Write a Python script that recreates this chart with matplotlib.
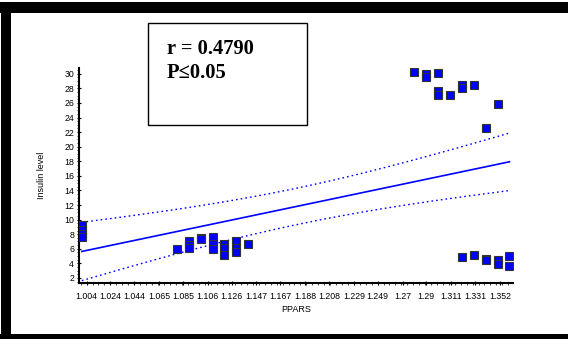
import numpy as np
import matplotlib
matplotlib.use("Agg")
from matplotlib import pyplot as plt
from matplotlib.patches import Rectangle
from matplotlib.ticker import AutoMinorLocator, MultipleLocator

# PPARS vs insulin level readings
ppars = [1.00, 1.00, 1.00, 1.00,
         1.08, 1.09, 1.09, 1.09, 1.10, 1.10,
         1.11, 1.11, 1.11, 1.12, 1.12, 1.12,
         1.13, 1.13, 1.13, 1.14,
         1.28, 1.29, 1.29, 1.30, 1.30, 1.30, 1.31,
         1.32, 1.32, 1.33, 1.34, 1.35,
         1.32, 1.33, 1.34, 1.34, 1.35, 1.35, 1.36, 1.36]
insulin = [9.2, 8.6, 8.0, 7.6,
           5.9, 7.0, 6.5, 6.1, 7.5, 7.3,
           7.55, 6.6, 6.0, 6.6, 6.1, 5.1,
           7.0, 6.1, 5.6, 6.6,
           30.3, 30.0, 29.6, 30.1, 27.7, 27.1, 27.1,
           28.5, 28.0, 28.4, 22.6, 25.9,
           4.9, 5.1, 4.6, 4.4, 4.4, 3.9, 5.0, 3.7]

# regression line end points and 95% band (half width at centre / at ends)
fit_x = [1.00, 1.36]
fit_y = [5.63, 17.93]
band_centre = 1.182
band_half_centre = 2.5
band_half_end = 4.0

xtick_labels = ["1.004", "1.024", "1.044", "1.065", "1.085", "1.106", "1.126",
                "1.147", "1.167", "1.188", "1.208", "1.229", "1.249", "1.27",
                "1.29", "1.311", "1.331", "1.352"]
yticks = list(range(2, 31, 2))

slope = (fit_y[1] - fit_y[0]) / (fit_x[1] - fit_x[0])
xf = np.linspace(fit_x[0], fit_x[1], 200)
yf = fit_y[0] + slope * (xf - fit_x[0])
dx_end = band_centre - fit_x[0]
k = (band_half_end ** 2 - band_half_centre ** 2) / dx_end ** 2
half = np.sqrt(band_half_centre ** 2 + k * (xf - band_centre) ** 2)

W, H = 568, 339
fig = plt.figure(figsize=(W / 100, H / 100), dpi=100)
ax = fig.add_axes([79 / W, 1 - 283 / H, 434 / W, 215 / H])

ax.plot(xf, yf, color="#0000ff", linewidth=1.2)
ax.plot(xf, yf + half, color="#0000ff", linewidth=1.0, linestyle=(0, (1.2, 2.2)))
ax.plot(xf, yf - half, color="#0000ff", linewidth=1.0, linestyle=(0, (1.2, 2.2)))
ax.plot(ppars, insulin, linestyle="none", marker="s", markersize=5.2,
        markerfacecolor="#0000ff", markeredgecolor="#333333",
        markeredgewidth=0.8, zorder=3)

ax.set_xlim(0.9976, 1.363)
ax.set_ylim(1.3, 30.8)
ax.set_xticks([float(t) for t in xtick_labels])
ax.set_xticklabels(xtick_labels)
ax.set_yticks(yticks)
ax.xaxis.set_minor_locator(AutoMinorLocator(4))
ax.yaxis.set_minor_locator(MultipleLocator(0.5))

for side in ["top", "right"]:
    ax.spines[side].set_visible(False)
for side in ["left", "bottom"]:
    ax.spines[side].set_linewidth(1.5)

ax.tick_params(axis="both", which="major", labelsize=6.3, length=3, width=0.8,
               direction="inout")
ax.tick_params(axis="x", which="major", pad=5)
ax.tick_params(axis="y", which="major", pad=2)
ax.tick_params(axis="both", which="minor", length=1.5, width=0.5, direction="out")
for lab in ax.get_xticklabels() + ax.get_yticklabels():
    lab.set_fontfamily("Liberation Sans")

ax.set_xlabel("PPARS", fontsize=6.5, family="Liberation Sans", labelpad=3)
ax.set_ylabel("Insulin level", fontsize=6.5, family="Liberation Sans", labelpad=13)

# statistics box
fig.add_artist(Rectangle((148 / W, 1 - 125 / H), 159 / W, 102 / H,
                         transform=fig.transFigure, fill=False,
                         edgecolor="black", linewidth=1.0))
fig.text(167 / W, 1 - 54.5 / H, "r = 0.4790", fontsize=14.8, fontweight="bold",
         family="Liberation Serif", va="baseline")
fig.text(167 / W, 1 - 78.5 / H, "P\u22640.05", fontsize=14.8, fontweight="bold",
         family=["Liberation Serif", "DejaVu Serif"], va="baseline")

# heavy frame on top, left and bottom
fig.add_artist(Rectangle((0, 1 - 13 / H), 1, 11 / H, transform=fig.transFigure,
                         color="black", linewidth=0))
fig.add_artist(Rectangle((1 / W, 0), 10 / W, 1 - 2 / H, transform=fig.transFigure,
                         color="black", linewidth=0))
fig.add_artist(Rectangle((0, 0), 1, 5 / H, transform=fig.transFigure,
                         color="black", linewidth=0))

fig.savefig("out.png", dpi=100)
